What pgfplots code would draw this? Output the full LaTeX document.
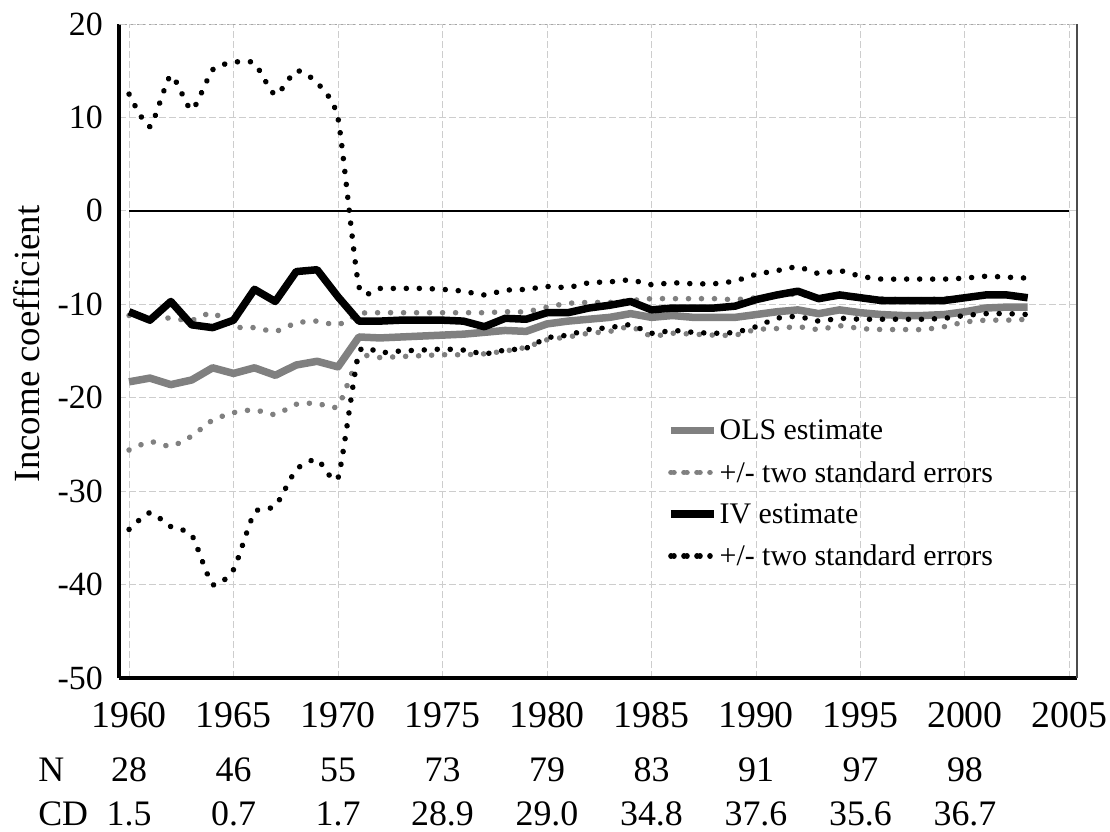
\documentclass[border=0pt]{standalone}
\usepackage{fontspec}
\setmainfont{Liberation Serif}
\usepackage{pgfplots}
\pgfplotsset{compat=1.18}
\usepackage{pgfplotstable}

\definecolor{olsgray}{RGB}{128,128,128}
\definecolor{gridgray}{RGB}{205,205,205}
\newcommand\xtickfont{\fontsize{38}{40}\selectfont}
\newcommand\rowfont{\fontsize{36}{40}\selectfont}
\newcommand\ytickfont{\fontsize{34}{36}\selectfont}
\newcommand\labfont{\fontsize{37}{40}\selectfont}
\newcommand\legfont{\fontsize{30}{32}\selectfont}

\pgfplotstableread{
year ols olsu olsl iv ivu ivl
1960 -18.3 -11.2 -25.6 -10.8 12.5 -34.1
1961 -17.9 -11.3 -24.7 -11.7 9.0 -32.3
1962 -18.6 -11.5 -25.2 -9.7 14.5 -33.8
1963 -18.1 -11.7 -24.1 -12.2 10.8 -34.7
1964 -16.8 -10.9 -22.4 -12.5 15.1 -40.0
1965 -17.4 -12.4 -21.6 -11.7 15.9 -38.4
1966 -16.8 -12.5 -21.3 -8.4 15.8 -32.3
1967 -17.6 -12.9 -21.8 -9.7 12.4 -31.6
1968 -16.5 -12.0 -20.7 -6.5 15.0 -27.7
1969 -16.1 -11.8 -20.6 -6.3 13.7 -26.6
1970 -16.7 -12.2 -20.9 -9.2 9.9 -28.6
1971 -13.5 -11.0 -15.7 -11.8 -8.1 -15.2
1972 -13.6 -10.9 -15.7 -11.8 -8.3 -15.2
1973 -13.5 -10.9 -15.6 -11.7 -8.3 -15.0
1974 -13.4 -10.9 -15.5 -11.7 -8.3 -14.9
1975 -13.3 -10.9 -15.4 -11.7 -8.4 -14.8
1976 -13.2 -10.9 -15.4 -11.8 -8.6 -14.9
1977 -13.0 -10.9 -15.3 -12.4 -9.0 -15.3
1978 -12.8 -10.8 -15.0 -11.5 -8.5 -14.9
1979 -12.9 -10.8 -14.6 -11.6 -8.4 -14.7
1980 -12.1 -10.3 -13.8 -10.9 -8.1 -13.6
1981 -11.8 -9.9 -13.5 -10.9 -8.2 -13.3
1982 -11.6 -9.8 -13.1 -10.4 -7.7 -12.7
1983 -11.4 -9.8 -12.9 -10.1 -7.6 -12.5
1984 -11.0 -9.6 -12.4 -9.7 -7.4 -12.2
1985 -11.4 -9.4 -13.4 -10.6 -7.9 -13.1
1986 -11.2 -9.4 -13.1 -10.4 -7.7 -12.8
1987 -11.4 -9.4 -13.2 -10.4 -7.8 -13.0
1988 -11.4 -9.4 -13.3 -10.4 -7.8 -13.1
1989 -11.4 -9.5 -13.3 -10.2 -7.5 -13.0
1990 -11.1 -9.3 -12.7 -9.5 -6.8 -12.4
1991 -10.8 -9.1 -12.6 -9.0 -6.4 -11.5
1992 -10.6 -8.9 -12.4 -8.6 -6.0 -11.3
1993 -11.0 -9.3 -12.7 -9.4 -6.7 -11.8
1994 -10.6 -8.9 -12.3 -9.0 -6.4 -11.5
1995 -10.9 -9.2 -12.6 -9.3 -7.0 -11.6
1996 -11.1 -9.4 -12.7 -9.6 -7.3 -11.6
1997 -11.2 -9.5 -12.7 -9.6 -7.3 -11.6
1998 -11.2 -9.5 -12.7 -9.6 -7.3 -11.6
1999 -11.1 -9.4 -12.4 -9.6 -7.3 -11.5
2000 -10.8 -9.2 -11.9 -9.3 -7.2 -11.2
2001 -10.4 -9.0 -11.7 -9.0 -7.0 -11.0
2002 -10.3 -9.0 -11.7 -9.0 -7.1 -11.0
2003 -10.3 -9.2 -11.6 -9.3 -7.2 -11.1
}\datatable

\begin{document}
\begin{tikzpicture}
\path[use as bounding box] (-119bp,-154bp) rectangle (991bp,678bp);
\begin{axis}[
  at={(0bp,0bp)}, anchor=south west,
  scale only axis, width=958bp, height=654bp,
  xmin=1959.52, xmax=2005.36, ymin=-50, ymax=20,
  clip=false,
  axis lines*=left,
  axis line style={line width=3.2bp, black},
  xtick={1960,1965,...,2005},
  ytick={-50,-40,...,20},
  major tick length=0pt,
  grid=major,
  major grid style={line width=1bp, color=gridgray, dash pattern=on 7bp off 3bp},
  /pgf/number format/assume math mode=true,
  /pgf/number format/1000 sep={},
  xticklabel style={font=\xtickfont, anchor=north, inner sep=0pt, yshift=-24bp},
  yticklabel style={font=\ytickfont, anchor=east, inner sep=0pt, xshift=-16bp},
  ylabel={Income coefficient},
  ylabel style={font=\labfont, at={(axis description cs:-0.096,0.511)}, anchor=center},
  legend cell align=left,
  legend image code/.code={\draw[#1] (0bp,0bp) -- (43bp,0bp);},
  legend style={at={(axis description cs:0.572,0.282)}, anchor=west,
    draw=none, fill=none, inner sep=0pt, font=\legfont, row sep=16bp,
    /tikz/every even column/.append style={column sep=10bp}},
  dotstyle/.style={line width=5.5bp, line cap=round, dash pattern=on 0.1bp off 12.9bp, smooth, tension=0.35},
  dotlegend/.style={legend image code/.code={\draw[##1] (3bp,0bp) -- (30bp,0bp); \path (0bp,0bp) -- (43bp,0bp);}},
  after end axis/.code={
    \draw[color=gray!70, line width=1bp, dash pattern=on 2bp off 4bp] (rel axis cs:0,1) -- (rel axis cs:1,1);
    \draw[color=black!70, line width=2bp] (rel axis cs:1,0) -- (rel axis cs:1,1);
    \node[anchor=base west, font=\rowfont, inner sep=0pt] at (axis cs:1955.65,-61.13) {N};
    \node[anchor=base west, font=\rowfont, inner sep=0pt] at (axis cs:1955.65,-65.8) {CD};
    \foreach \yr/\n/\cd in {1960/28/1.5, 1965/46/0.7, 1970/55/1.7, 1975/73/28.9, 1980/79/29.0, 1985/83/34.8, 1990/91/37.6, 1995/97/35.6, 2000/98/36.7}{
      \node[anchor=base, font=\rowfont, inner sep=0pt] at (axis cs:\yr,-61.13) {\n};
      \node[anchor=base, font=\rowfont, inner sep=0pt] at (axis cs:\yr,-65.8) {\cd};
    }
  },
]
\addplot[black, line width=2.5bp, forget plot] coordinates {(1960,0) (2005,0)};
\addplot[olsgray, line width=7.5bp, line join=round] table[x=year, y=ols] {\datatable};
\addlegendentry{OLS estimate}
\addplot[olsgray, dotstyle, dotlegend] table[x=year, y=olsu] {\datatable};
\addlegendentry{+/- two standard errors}
\addplot[olsgray, dotstyle, forget plot] table[x=year, y=olsl] {\datatable};
\addplot[black, line width=7.5bp, line join=round] table[x=year, y=iv] {\datatable};
\addlegendentry{IV estimate}
\addplot[black, dotstyle, dotlegend] table[x=year, y=ivu] {\datatable};
\addlegendentry{+/- two standard errors}
\addplot[black, dotstyle, forget plot] table[x=year, y=ivl] {\datatable};
\end{axis}
\end{tikzpicture}
\end{document}
